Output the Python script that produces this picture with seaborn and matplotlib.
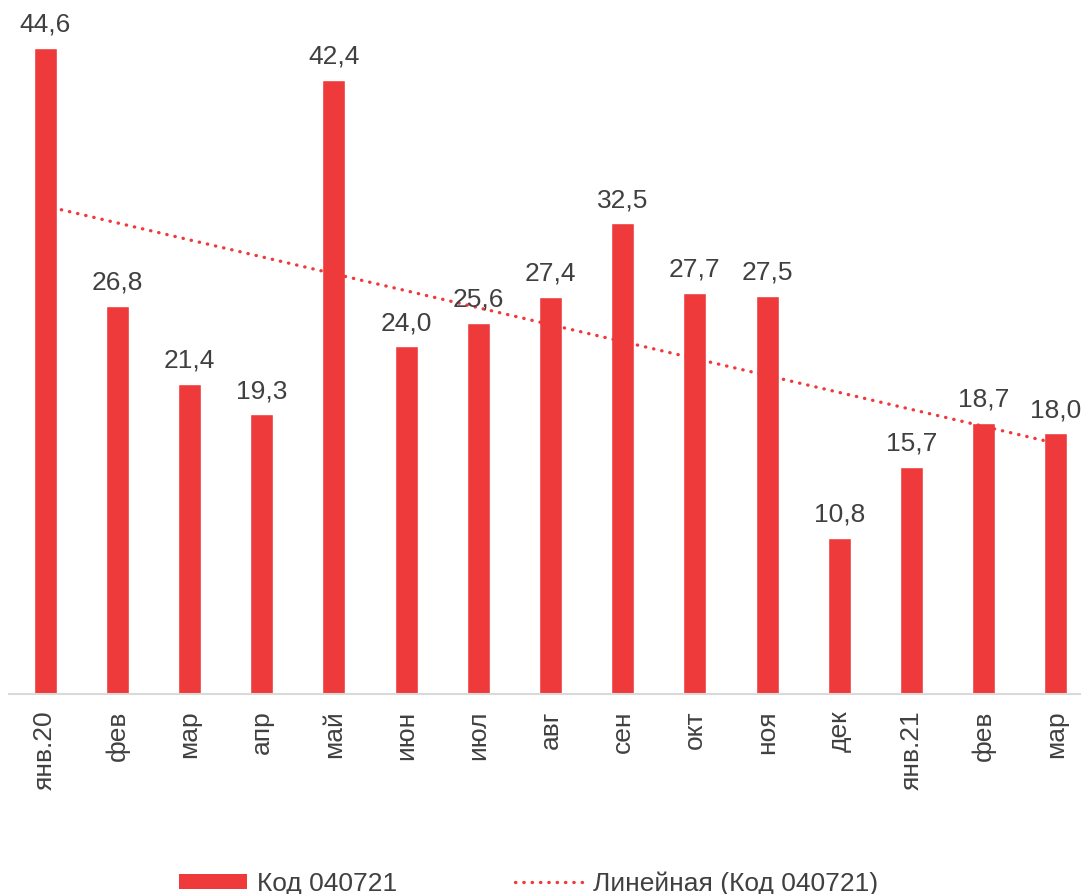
import numpy as np
import pandas as pd
import matplotlib
matplotlib.use('Agg')
import matplotlib.pyplot as plt
import seaborn as sns
from matplotlib.patches import Patch
from matplotlib.lines import Line2D

# data
months = ['янв.20', 'фев', 'мар', 'апр', 'май', 'июн', 'июл', 'авг', 'сен', 'окт', 'ноя', 'дек', 'янв.21', 'фев', 'мар']
values = [44.6, 26.8, 21.4, 19.3, 42.4, 24.0, 25.6, 27.4, 32.5, 27.7, 27.5, 10.8, 15.7, 18.7, 18.0]
series_name = 'Код 040721'
trend_name = 'Линейная (Код 040721)'

bar_color = '#EE3A3B'
text_color = '#404040'

sns.set_style('white')
plt.rcParams['font.family'] = ['Liberation Sans', 'DejaVu Sans']

df = pd.DataFrame({'pos': np.arange(len(months)), 'value': values})

fig = plt.figure(figsize=(10.81, 8.94), dpi=100)
ax = fig.add_axes([9 / 1081, 200 / 894, 1072 / 1081, 694 / 894])

sns.barplot(data=df, x='pos', y='value', color=bar_color, width=0.32,
            saturation=1, ax=ax, zorder=2)

# excel-style linear trendline
coef = np.polyfit(df['pos'], df['value'], 1)
df['trend'] = np.polyval(coef, df['pos'])
ax.plot(df['pos'], df['trend'], color=bar_color, linewidth=2.4,
        linestyle=(0, (0.1, 2.4)), dash_capstyle='round', zorder=3)

# value labels
labels = [f'{v:.1f}'.replace('.', ',') for v in values]
ax.bar_label(ax.containers[0], labels=labels, padding=8, fontsize=19, color=text_color)

ax.set_xlim(-0.5, -0.5 + 1072 / 72.2)
ax.set_ylim(0, 47.9)
ax.set_xticks(df['pos'])
ax.set_xticklabels(months, rotation=90, fontsize=19, color=text_color)
ax.tick_params(axis='x', length=0, pad=12)
ax.set_yticks([])
ax.set_xlabel('')
ax.set_ylabel('')
for s in ['top', 'right', 'left']:
    ax.spines[s].set_visible(False)
ax.spines['bottom'].set_color('#D9D9D9')
ax.spines['bottom'].set_linewidth(1.5)

handles = [Patch(facecolor=bar_color, edgecolor='none'),
           Line2D([0], [0], color=bar_color, linewidth=2.4, linestyle=(0, (0.1, 2.4)), dash_capstyle='round')]
fig.legend(handles, [series_name, trend_name], loc='center', bbox_to_anchor=(0.489, 0.012),
           ncol=2, frameon=False, fontsize=19, labelcolor=text_color,
           handlelength=2.6, handleheight=0.5, handletextpad=0.35, columnspacing=4.5)

fig.savefig('out.png', dpi=100)
